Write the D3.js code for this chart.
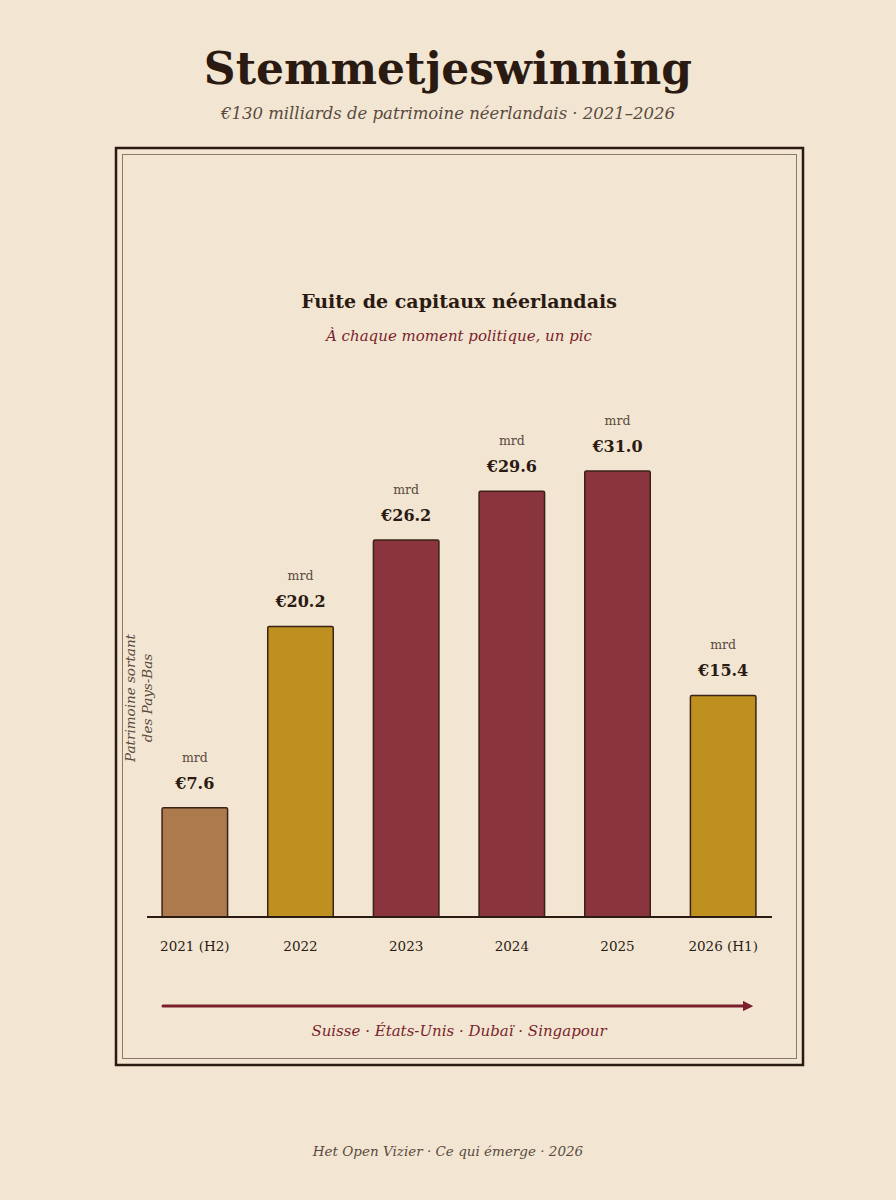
<!DOCTYPE html>
<html><head><meta charset="utf-8">
<script src="https://cdn.jsdelivr.net/npm/d3@7"></script>
<style>
body{margin:0;background:#f2e6d3;}
svg text{font-family:"DejaVu Serif",serif;}
</style></head>
<body><svg id="c" width="896" height="1200"></svg>
<script>
const years = ["2021 (H2)", "2022", "2023", "2024", "2025", "2026 (H1)"];
const values = [7.6, 20.2, 26.2, 29.6, 31.0, 15.4];
const colors = ["#ad7a4e", "#bd9020", "#8a343d", "#8a343d", "#8a343d", "#bd9020"];

const svg = d3.select("#c");
const ink = "#2a1a12", wine = "#7a1f2b";

svg.append("rect").attr("width", 896).attr("height", 1200).attr("fill", "#f2e6d3");
svg.append("text").attr("x", 448).attr("y", 84).attr("text-anchor", "middle")
  .attr("font-size", 44).attr("font-weight", "bold").attr("fill", ink).text("Stemmetjeswinning");
svg.append("text").attr("x", 448).attr("y", 119).attr("text-anchor", "middle")
  .attr("font-size", 16.5).attr("font-style", "italic").attr("fill", "#5a4a3e")
  .text("€130 milliards de patrimoine néerlandais · 2021–2026");

svg.append("rect").attr("x", 116).attr("y", 148).attr("width", 687).attr("height", 917)
  .attr("fill", "none").attr("stroke", ink).attr("stroke-width", 2.5);
svg.append("rect").attr("x", 122.5).attr("y", 154.5).attr("width", 674).attr("height", 904)
  .attr("fill", "none").attr("stroke", "#8a7a6a").attr("stroke-width", 1);

svg.append("text").attr("x", 459).attr("y", 308).attr("text-anchor", "middle")
  .attr("font-size", 19).attr("font-weight", "bold").attr("fill", ink).text("Fuite de capitaux néerlandais");
svg.append("text").attr("x", 459).attr("y", 341).attr("text-anchor", "middle")
  .attr("font-size", 15).attr("font-style", "italic").attr("fill", wine).text("À chaque moment politique, un pic");

const x = d3.scaleBand().domain(years).range([142, 776]).paddingInner(0.38).paddingOuter(0.19);
const y = d3.scaleLinear().domain([0, 31]).range([917, 471]);

const g = svg.append("g");
g.selectAll("rect.bar").data(values).join("rect").attr("class", "bar")
  .attr("x", (d, i) => x(years[i])).attr("width", x.bandwidth())
  .attr("y", d => y(d)).attr("height", d => y(0) - y(d))
  .attr("fill", (d, i) => colors[i]).attr("stroke", "#3a2218").attr("stroke-width", 1.5).attr("rx", 1.5);

g.selectAll("text.val").data(values).join("text").attr("class", "val")
  .attr("x", (d, i) => x(years[i]) + x.bandwidth() / 2).attr("y", d => y(d) - 19)
  .attr("text-anchor", "middle").attr("font-size", 16).attr("font-weight", "bold").attr("fill", ink)
  .text(d => "€" + d.toFixed(1));
g.selectAll("text.unit").data(values).join("text").attr("class", "unit")
  .attr("x", (d, i) => x(years[i]) + x.bandwidth() / 2).attr("y", d => y(d) - 46)
  .attr("text-anchor", "middle").attr("font-size", 12.5).attr("fill", "#5a4a3e").text("mrd");

svg.append("line").attr("x1", 147).attr("x2", 772).attr("y1", y(0)).attr("y2", y(0))
  .attr("stroke", ink).attr("stroke-width", 2);

const ax = svg.append("g").attr("transform", `translate(0,${y(0)})`)
  .call(d3.axisBottom(x).tickSize(0).tickPadding(24));
ax.select(".domain").remove();
ax.selectAll("text").attr("font-size", 13.5).attr("fill", ink).attr("font-family", "DejaVu Serif");

svg.append("text").attr("transform", "translate(135,698) rotate(-90)").attr("text-anchor", "middle")
  .attr("font-size", 13.5).attr("font-style", "italic").attr("fill", "#5a4a3e")
  .selectAll("tspan").data(["Patrimoine sortant", "des Pays-Bas"]).join("tspan")
  .attr("x", 0).attr("dy", (d, i) => i ? 17 : 0).text(d => d);

svg.append("defs").append("marker").attr("id", "ah").attr("viewBox", "0 0 10 10")
  .attr("refX", 5).attr("refY", 5).attr("markerWidth", 3.5).attr("markerHeight", 3.5).attr("orient", "auto")
  .append("path").attr("d", "M0,0L10,5L0,10z").attr("fill", wine);
svg.append("line").attr("x1", 163).attr("x2", 748).attr("y1", 1006).attr("y2", 1006)
  .attr("stroke", wine).attr("stroke-width", 3).attr("stroke-linecap", "round").attr("marker-end", "url(#ah)");
svg.append("text").attr("x", 459).attr("y", 1036).attr("text-anchor", "middle")
  .attr("font-size", 15).attr("font-style", "italic").attr("fill", wine)
  .text("Suisse · États-Unis · Dubaï · Singapour");

svg.append("text").attr("x", 448).attr("y", 1156).attr("text-anchor", "middle")
  .attr("font-size", 13.5).attr("font-style", "italic").attr("fill", "#5a4a3e")
  .text("Het Open Vizier · Ce qui émerge · 2026");
</script></body></html>
